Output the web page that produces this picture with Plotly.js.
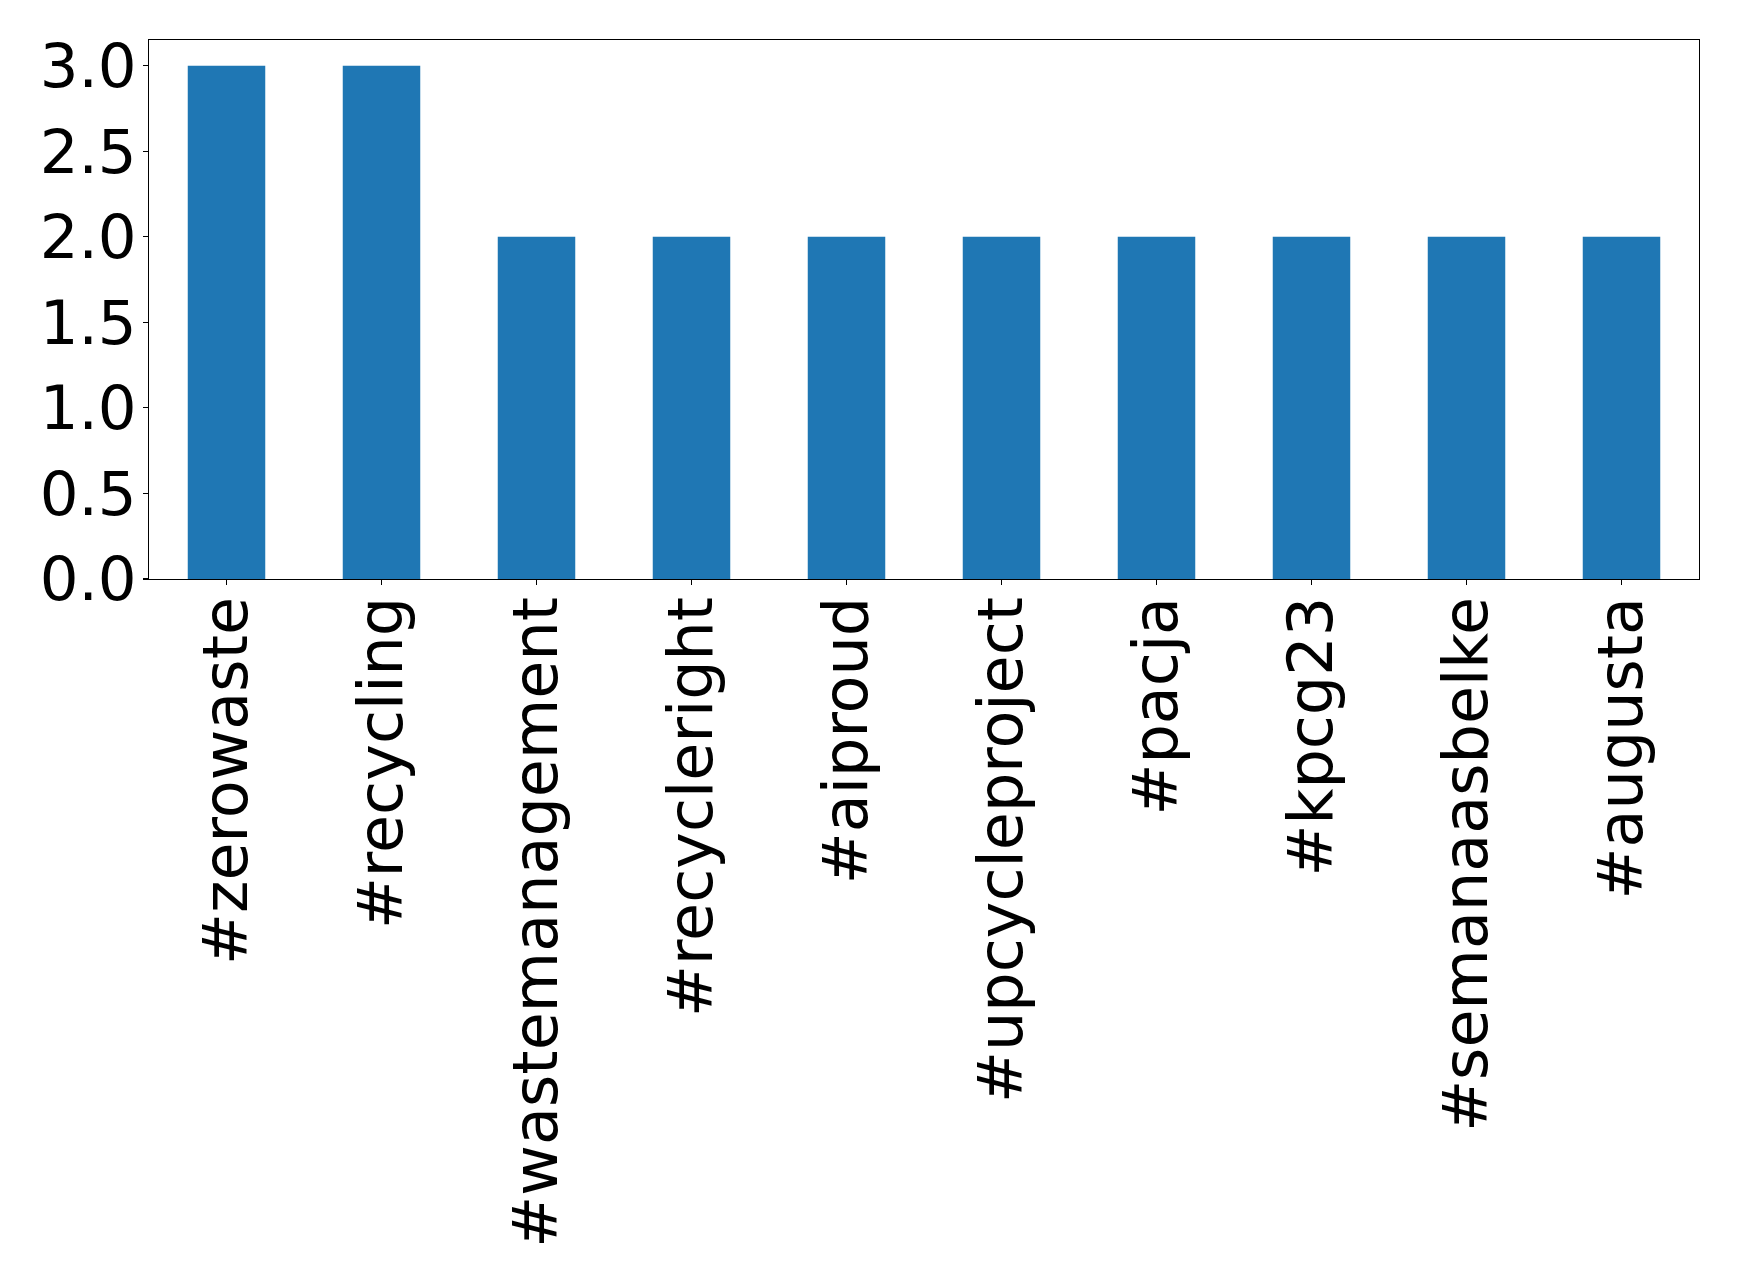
<!DOCTYPE html>
<html><head><meta charset="utf-8">
<script src="https://cdn.plot.ly/plotly-3.0.1.min.js"></script>
<style>body{margin:0;background:#fff}#chart{width:1739px;height:1284px}</style>
</head><body><div id="chart"></div>
<script>
var categories = ["#zerowaste","#recycling","#wastemanagement","#recycleright","#aiproud","#upcycleproject","#pacja","#kpcg23","#semanaasbelke","#augusta"];
var counts = [3,3,2,2,2,2,2,2,2,2];
var yTicks = [0,0.5,1,1.5,2,2.5,3];
var yTickLabels = ["0.0","0.5","1.0","1.5","2.0","2.5","3.0"];

var trace = {type:'bar', x:categories, y:counts, width:0.5, marker:{color:'#1f77b4', line:{width:0}}};
var layout = {
  width:1739, height:1284,
  margin:{l:149, r:40, t:40, b:705, pad:0},
  paper_bgcolor:'#fff', plot_bgcolor:'#fff',
  font:{family:'DejaVu Sans', size:61, color:'#000'},
  showlegend:false,
  bargap:0.5,
  xaxis:{type:'category', range:[-0.5,9.5], tickangle:-90, ticks:'outside', ticklen:5, tickwidth:1.1, tickcolor:'#000',
         showline:true, linecolor:'#000', linewidth:1.1, mirror:true, showgrid:false, zeroline:false,
         ticklabelstandoff:-13,
         tickfont:{family:'DejaVu Sans', size:62, color:'#000'}, automargin:false},
  yaxis:{range:[0,3.15], tickvals:yTicks, ticktext:yTickLabels, ticks:'outside', ticklen:5, tickwidth:1.1, tickcolor:'#000',
         showline:true, linecolor:'#000', linewidth:1.1, mirror:true, showgrid:false, zeroline:false,
         ticklabelstandoff:-6,
         tickfont:{family:'DejaVu Sans', size:61, color:'#000'}, automargin:false}
};
Plotly.newPlot('chart',[trace],layout,{staticPlot:true});
</script></body></html>
